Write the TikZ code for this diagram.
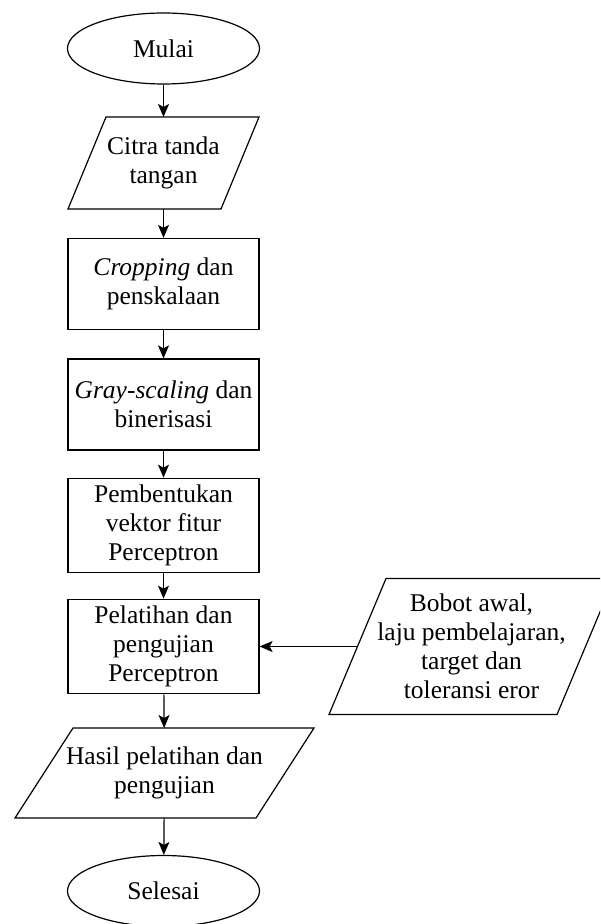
\documentclass[tikz,border=0pt]{standalone}
\usepackage{fontspec}
\setmainfont{Liberation Serif}
\usetikzlibrary{arrows.meta}
\usetikzlibrary{shapes.geometric}

\begin{document}
\begin{tikzpicture}[x=0.5pt, y=-0.5pt,
    terminal/.style={shape=ellipse, draw=black, minimum width=96pt, minimum height=35.5pt, inner sep=0pt},
    process/.style={shape=rectangle, draw=black, minimum width=95.5pt, minimum height=45.5pt, inner xsep=2pt, align=center},
    datanode/.style={shape=rectangle, draw=none, outer sep=0pt, inner xsep=2pt, align=center},
    flow/.style={-{Stealth[length=6.5pt,width=5.5pt,inset=1.5pt]}},
    line width=0.6pt, font=\fontsize{12.75}{14.5}\selectfont]

    \useasboundingbox (0,0) rectangle (600,924);
    \clip (0,0) rectangle (600,924);

                \node[terminal] (A) at (163.5,48.5) {Mulai};
                \node[datanode, minimum width=76.5pt, minimum height=46pt] (B) at (163.5,163) {Citra tanda\\tangan};
                \node[process] (C) at (163.5,284) {\textit{Cropping} dan\\penskalaan};
                \node[process] (D) at (163.5,404.5) {\textit{Gray-scaling} dan\\binerisasi};
                \node[process] (E) at (163.5,525.5) {Pembentukan\\vektor fitur\\Perceptron};
                \node[process] (F) at (163.5,646.5) {Pelatihan dan\\pengujian\\Perceptron};
                \node[datanode, minimum width=114pt, minimum height=68pt] (G) at (471.5,646.5) {Bobot awal,\\laju pembelajaran,\\target dan\\toleransi eror};
                \node[datanode, minimum width=120.5pt, minimum height=45pt] (H) at (164.5,773) {Hasil pelatihan dan\\pengujian};
                \node[terminal] (I) at (163.5,891) {Selesai};

                % parallelogram outlines for the data nodes
                \foreach \n/\s in {B/19pt, G/28.5pt, H/29pt}
                    \draw ([xshift=\s/2]\n.north west) -- ([xshift=\s/2]\n.north east)
                        -- ([xshift=-\s/2]\n.south east) -- ([xshift=-\s/2]\n.south west) -- cycle;

                \draw[flow] (A) -- (B);
                \draw[flow] (B) -- (C);
                \draw[flow] (C) -- (D);
                \draw[flow] (D) -- (E);
                \draw[flow] (E) -- (F);
                \draw[flow] (G) -- (F);
                \draw[flow] (F) -- (H);
                \draw[flow] (H) -- (I);

            \end{tikzpicture}
\end{document}
